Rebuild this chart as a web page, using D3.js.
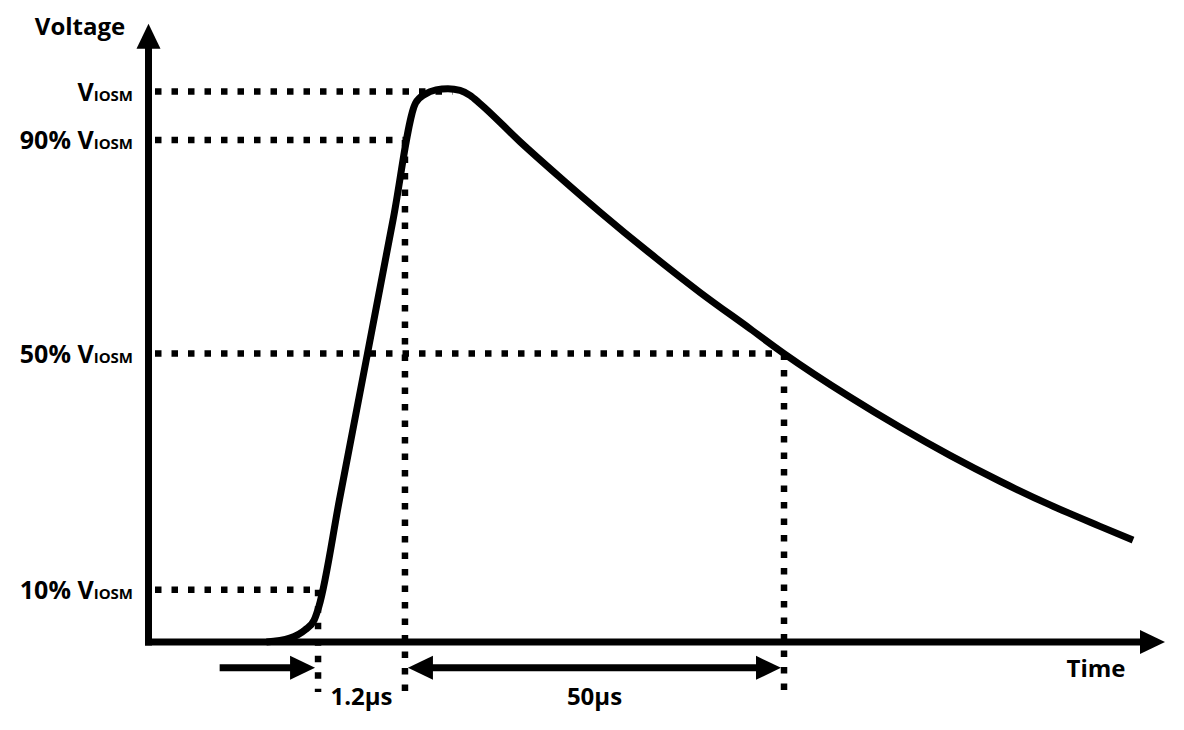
<!DOCTYPE html>
<html>
<head>
<meta charset="utf-8">
<script src="https://cdn.jsdelivr.net/npm/d3@7"></script>
<style>
  body { margin: 0; background: #fff; }
  text { font-family: "Open Sans", sans-serif; font-weight: 700; fill: #000; }
</style>
</head>
<body>
<svg id="chart" width="1184" height="730"></svg>
<script>
// Waveform.
// time: arbitrary units, 0 = voltage axis, 100 = tip of the time arrow
// voltage: fraction of VIOSM
const waveT = [11.6, 13.9, 15.4, 16.3, 16.77, 18.83, 21.54, 24.06, 26.27, 27.20, 28.28, 29.46, 30.65, 31.63, 32.61,
               36.54, 40.48, 44.42, 49.34, 54.26, 59.18, 62.52, 69.00, 73.93, 78.85, 83.77, 88.69, 93.61, 96.85];
const waveV = [0.000, 0.007, 0.022, 0.040, 0.065, 0.263, 0.524, 0.767, 0.979, 0.995, 1.003, 1.005, 1.002, 0.993, 0.978,
               0.909, 0.844, 0.781, 0.706, 0.635, 0.569, 0.524, 0.445, 0.390, 0.339, 0.292, 0.249, 0.210, 0.185];

// reference levels (as drawn) and where their dotted lines stop
const levelValues = [1.0, 0.912, 0.524, 0.095];
const levelPrefix = ["", "90% ", "50% ", "10% "];
const levelEndT   = [29.9, 25.23, 62.52, 16.68];

// vertical markers: 10% crossing, 90% crossing, 50% on the tail
const markerT = [16.68, 25.23, 62.52];
const markerV = [0.095, 0.912, 0.524];

// time intervals below the axis
const intervalFrom  = [7.0, 25.23];
const intervalTo    = [16.68, 62.52];
const intervalLabel = ["1.2µs", "50µs"];
const intervalBoth  = [false, true];

const axisTopV = 1.123;
const belowAxisV = -0.091;   // how far the marker lines drop
const intervalV = -0.047;    // height of the interval arrows

const svg = d3.select("#chart");
const x = d3.scaleLinear().domain([0, 100]).range([148.5, 1165]);
const y = d3.scaleLinear().domain([0, 1]).range([642, 91.5]);

const dotted = g => g.attr("stroke", "#000").attr("stroke-width", 6.5)
  .attr("stroke-dasharray", "6.5 10").attr("fill", "none");

// dotted level lines
levelValues.forEach((v, i) => {
  svg.append("line")
    .attr("x1", x(0) + 6.5).attr("x2", x(levelEndT[i]))
    .attr("y1", y(v)).attr("y2", y(v))
    .call(dotted);
});

// dotted marker lines
markerT.forEach((t, i) => {
  svg.append("line")
    .attr("x1", x(t)).attr("x2", x(t))
    .attr("y1", y(markerV[i])).attr("y2", y(belowAxisV))
    .call(dotted);
});

// the pulse
const wave = d3.zip(waveT, waveV);
svg.append("path")
  .attr("d", d3.line().x(d => x(d[0])).y(d => y(d[1])).curve(d3.curveMonotoneX)(wave))
  .attr("fill", "none").attr("stroke", "#000").attr("stroke-width", 7)
  .attr("stroke-linejoin", "round");

// arrow head helper, dir = "right" | "left" | "up"
function head(tx, ty, dir, len = 25, half = 12) {
  let pts;
  if (dir === "right") pts = [[tx, ty], [tx - len, ty - half], [tx - len, ty + half]];
  else if (dir === "left") pts = [[tx, ty], [tx + len, ty - half], [tx + len, ty + half]];
  else pts = [[tx, ty], [tx - half, ty + len], [tx + half, ty + len]];
  svg.append("path").attr("d", "M" + pts.join("L") + "Z").attr("fill", "#000");
}

// axes
svg.append("line")
  .attr("x1", x(0)).attr("x2", x(0))
  .attr("y1", y(0) + 3.5).attr("y2", y(axisTopV) + 20)
  .attr("stroke", "#000").attr("stroke-width", 7);
head(x(0), y(axisTopV), "up");
svg.append("line")
  .attr("x1", x(0) - 3.5).attr("x2", x(100) - 20)
  .attr("y1", y(0)).attr("y2", y(0))
  .attr("stroke", "#000").attr("stroke-width", 7);
head(x(100), y(0), "right");

// interval arrows
intervalFrom.forEach((t0, i) => {
  const x0 = intervalBoth[i] ? x(t0) + 3 : x(t0);
  const x1 = x(intervalTo[i]) - 3;
  const yy = y(intervalV);
  svg.append("line")
    .attr("x1", intervalBoth[i] ? x0 + 20 : x0).attr("x2", x1 - 20)
    .attr("y1", yy).attr("y2", yy)
    .attr("stroke", "#000").attr("stroke-width", 7);
  head(x1, yy, "right");
  if (intervalBoth[i]) head(x0, yy, "left");
});

// interval labels centred between the marker lines
const labelEdges = [[markerT[0], markerT[1]], [markerT[1], markerT[2]]];
intervalLabel.forEach((s, i) => {
  svg.append("text")
    .attr("x", (x(labelEdges[i][0]) + x(labelEdges[i][1])) / 2)
    .attr("y", 705).attr("text-anchor", "middle")
    .attr("font-size", 24).text(s);
});

// level labels
levelValues.forEach((v, i) => {
  const t = svg.append("text")
    .attr("x", 133).attr("y", y(v) + 9)
    .attr("text-anchor", "end").attr("font-size", 25);
  t.append("tspan").text(levelPrefix[i] + "V");
  t.append("tspan").attr("font-size", 15).text("IOSM");
});

// axis titles
svg.append("text").attr("x", 80).attr("y", 35).attr("text-anchor", "middle")
  .attr("font-size", 24).text("Voltage");
svg.append("text").attr("x", 1096).attr("y", 677).attr("text-anchor", "middle")
  .attr("font-size", 24).text("Time");
</script>
</body>
</html>
